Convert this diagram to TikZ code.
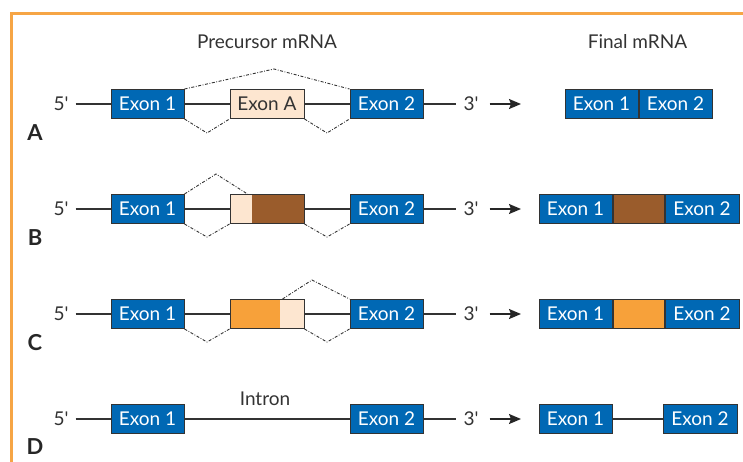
\documentclass[tikz,border=0pt]{standalone}
\usepackage{fontspec}
\setmainfont{Lato}
\usetikzlibrary{arrows.meta}
\definecolor{exonblue}{HTML}{0068B4}
\definecolor{peach}{HTML}{FDE6D0}
\definecolor{brownx}{HTML}{9A5C2C}
\definecolor{orangex}{HTML}{F7A13A}
\definecolor{framec}{HTML}{F6A545}
\definecolor{ink}{HTML}{333333}
\newcommand{\pr}{\textquotesingle}
\tikzset{
  box/.style={draw=ink, line width=1pt, minimum height=29pt, inner sep=0pt,
    text=white, font=\fontsize{19}{19}\selectfont},
  exon/.style={box, fill=exonblue, minimum width=73pt},
  lbl/.style={text=ink, inner sep=3pt, font=\fontsize{19}{19}\selectfont},
  rowlbl/.style={text=black!85, font=\fontsize{22}{22}\selectfont\bfseries},
  strand/.style={line width=1.6pt, ink},
  splice/.style={line width=0.9pt, ink, dash pattern=on 3pt off 1.6pt on 0.8pt off 1.6pt},
  fwd/.style={line width=1.6pt, black!85, -{Stealth[length=12pt,width=10pt,inset=2pt]}},
  leftpart/.style 2 args={path picture={\fill[#1]
      (path picture bounding box.south west) rectangle
      ([xshift=#2]path picture bounding box.north west);}},
  rightpart/.style 2 args={path picture={\fill[#1]
      ([xshift=#2]path picture bounding box.south west) rectangle
      (path picture bounding box.north east);}},
}
\begin{document}
\begin{tikzpicture}[x=1pt,y=-1pt]
\useasboundingbox (0,0) rectangle (743,461);
\clip (0,0) rectangle (743,461);
% frame
\draw[framec, line width=3pt] (760,13) -- (11,13) -- (11,480);

% headings
\node[lbl] (hpre) at (267,42) {Precursor mRNA};
\node[lbl] (hfin) at (637.5,42) {Final mRNA};

% ---------- row A : cassette exon skipped ----------
\node[lbl] (p5A) at (61,104) {5\pr};
\node[exon] (e1A) at (147.5,104) {Exon 1};
\node[box, fill=peach, text=ink, minimum width=74pt] (mA) at (267,104) {Exon A};
\node[exon] (e2A) at (386.5,104) {Exon 2};
\node[lbl] (p3A) at (471,104) {3\pr};
\coordinate (tA) at (521,104);
\node[exon] (fA1) at (601.5,104) {Exon 1};
\node[exon, anchor=west] (fA2) at (fA1.east) {Exon 2};
\node[rowlbl] (lA) at (35,133) {A};
\draw[strand, shorten <=4pt] (p5A.east) -- (e1A.west);
\draw[strand] (e1A) -- (mA);
\draw[strand] (mA) -- (e2A);
\draw[strand, shorten >=4pt] (e2A.east) -- (p3A.west);
\draw[fwd, shorten <=8pt] (p3A.east) -- (tA);
\draw[splice] (e1A.north east) -- (274,69) -- (e2A.north west);
\draw[splice] (e1A.south east) -- (207,133) -- (mA.south west);
\draw[splice] (mA.south east) -- (327,133) -- (e2A.south west);

% ---------- row B : alternative 3' splice site ----------
\node[lbl] (p5B) at (61,209) {5\pr};
\node[exon] (e1B) at (147.5,209) {Exon 1};
\node[box, fill=brownx, minimum width=74pt, leftpart={peach}{22pt}] (mB) at (267,209) {};
\node[exon] (e2B) at (386.5,209) {Exon 2};
\node[lbl] (p3B) at (471,209) {3\pr};
\coordinate (tB) at (521,209);
\node[exon] (fB1) at (575.5,209) {Exon 1};
\node[box, fill=brownx, minimum width=51pt, anchor=west] (fB2) at (fB1.east) {};
\node[exon, minimum width=74pt, anchor=west] (fB3) at (fB2.east) {Exon 2};
\node[rowlbl] (lB) at (35,238) {B};
\draw[strand, shorten <=4pt] (p5B.east) -- (e1B.west);
\draw[strand] (e1B) -- (mB);
\draw[strand] (mB) -- (e2B);
\draw[strand, shorten >=4pt] (e2B.east) -- (p3B.west);
\draw[fwd, shorten <=8pt] (p3B.east) -- (tB);
\draw[splice] (e1B.north east) -- (216,174) -- ([xshift=18pt]mB.north west);
\draw[splice] (e1B.south east) -- (207,237) -- (mB.south west);
\draw[splice] (mB.south east) -- (327,237) -- (e2B.south west);

% ---------- row C : alternative 5' splice site ----------
\node[lbl] (p5C) at (61,314) {5\pr};
\node[exon] (e1C) at (147.5,314) {Exon 1};
\node[box, fill=orangex, minimum width=74pt, rightpart={peach}{50pt}] (mC) at (267,314) {};
\node[exon] (e2C) at (386.5,314) {Exon 2};
\node[lbl] (p3C) at (471,314) {3\pr};
\coordinate (tC) at (521,314);
\node[exon] (fC1) at (575.5,314) {Exon 1};
\node[box, fill=orangex, minimum width=51pt, anchor=west] (fC2) at (fC1.east) {};
\node[exon, minimum width=74pt, anchor=west] (fC3) at (fC2.east) {Exon 2};
\node[rowlbl] (lC) at (35,343) {C};
\draw[strand, shorten <=4pt] (p5C.east) -- (e1C.west);
\draw[strand] (e1C) -- (mC);
\draw[strand] (mC) -- (e2C);
\draw[strand, shorten >=4pt] (e2C.east) -- (p3C.west);
\draw[fwd, shorten <=8pt] (p3C.east) -- (tC);
\draw[splice] ([xshift=53pt]mC.north west) -- (312,280) -- (e2C.north west);
\draw[splice] (e1C.south east) -- (207,342) -- (mC.south west);
\draw[splice] (mC.south east) -- (327,342) -- (e2C.south west);

% ---------- row D : intron retention ----------
\node[lbl] (p5D) at (61,419) {5\pr};
\node[exon] (e1D) at (147.5,419) {Exon 1};
\node[exon] (e2D) at (386.5,419) {Exon 2};
\node[lbl] (intr) at (265,399) {Intron};
\node[lbl] (p3D) at (471,419) {3\pr};
\coordinate (tD) at (521,419);
\node[exon] (fD1) at (575.5,419) {Exon 1};
\node[exon, minimum width=74pt] (fD2) at (700,419) {Exon 2};
\node[rowlbl] (lD) at (35,447) {D};
\draw[strand, shorten <=4pt] (p5D.east) -- (e1D.west);
\draw[strand] (e1D) -- (e2D);
\draw[strand, shorten >=4pt] (e2D.east) -- (p3D.west);
\draw[fwd, shorten <=8pt] (p3D.east) -- (tD);
\draw[strand] (fD1) -- (fD2);
\end{tikzpicture}
\end{document}
